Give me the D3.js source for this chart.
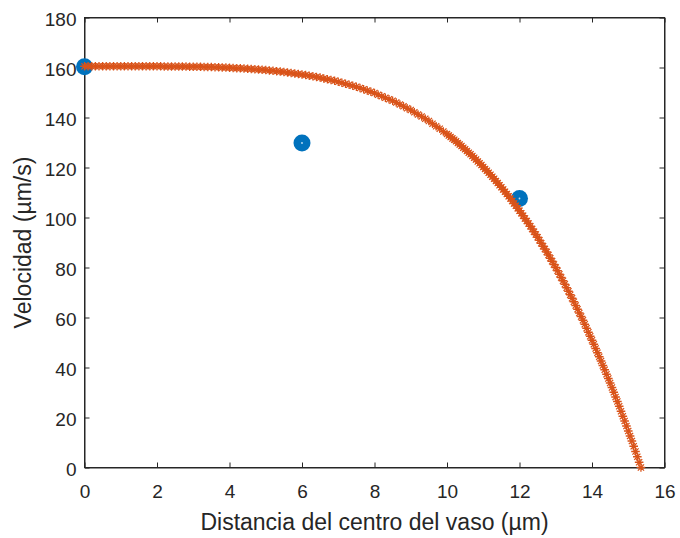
<!DOCTYPE html>
<html>
<head>
<meta charset="utf-8">
<script src="https://cdn.jsdelivr.net/npm/d3@7"></script>
<style>
  html, body { margin: 0; padding: 0; background: #ffffff; }
  svg { display: block; }
  text { font-family: "Liberation Sans", Arial, Helvetica, sans-serif; fill: #262626; }
</style>
</head>
<body>
<svg id="chart" width="680" height="538"></svg>
<script>
// ---- data ----
const xTicks = [0, 2, 4, 6, 8, 10, 12, 14, 16];
const yTicks = [0, 20, 40, 60, 80, 100, 120, 140, 160, 180];
const xLabel = "Distancia del centro del vaso (µm)";
const yLabel = "Velocidad (µm/s)";

// measured points (blue)
const measuredDist = [0, 6, 12];
const measuredVel = [160.3, 129.8, 107.6];

// fitted profile (orange asterisks)
const curveDist = [
  0,0.1,0.2,0.3,0.4,0.5,0.6,0.7,0.8,0.9,
  1,1.1,1.2,1.3,1.4,1.5,1.6,1.7,1.8,1.9,
  2,2.1,2.2,2.3,2.4,2.5,2.6,2.7,2.8,2.9,
  3,3.1,3.2,3.3,3.4,3.5,3.6,3.7,3.8,3.9,
  4,4.1,4.2,4.3,4.4,4.5,4.6,4.7,4.8,4.9,
  5,5.1,5.2,5.3,5.4,5.5,5.6,5.7,5.8,5.9,
  6,6.1,6.2,6.3,6.4,6.5,6.6,6.7,6.8,6.9,
  7,7.1,7.2,7.3,7.4,7.5,7.6,7.7,7.8,7.9,
  8,8.1,8.2,8.3,8.4,8.5,8.6,8.7,8.8,8.9,
  9,9.1,9.2,9.3,9.4,9.5,9.6,9.7,9.8,9.9,
  10,10.05,10.1,10.15,10.2,10.25,10.3,10.35,10.4,10.45,
  10.5,10.55,10.6,10.65,10.7,10.75,10.8,10.85,10.9,10.95,
  11,11.05,11.1,11.15,11.2,11.25,11.3,11.35,11.4,11.45,
  11.5,11.55,11.6,11.65,11.7,11.75,11.8,11.85,11.9,11.95,
  12,12.05,12.1,12.15,12.2,12.25,12.3,12.35,12.4,12.45,
  12.5,12.55,12.6,12.65,12.7,12.75,12.8,12.85,12.9,12.95,
  13,13.05,13.1,13.15,13.2,13.25,13.3,13.35,13.4,13.45,
  13.5,13.55,13.6,13.65,13.7,13.75,13.8,13.85,13.9,13.95,
  14,14.05,14.1,14.15,14.2,14.25,14.3,14.35,14.4,14.45,
  14.5,14.55,14.6,14.65,14.7,14.75,14.8,14.85,14.9,14.95,
  15,15.05,15.1,15.15,15.2,15.25,15.3,15.35
];
const curveVel = [
  160.5,160.5,160.5,160.5,160.5,160.5,160.5,160.5,160.5,160.5,
  160.5,160.5,160.5,160.5,160.5,160.5,160.5,160.5,160.5,160.5,
  160.5,160.5,160.4,160.4,160.4,160.4,160.4,160.4,160.4,160.3,
  160.3,160.3,160.3,160.2,160.2,160.2,160.1,160.1,160.0,160.0,
  159.9,159.8,159.7,159.7,159.6,159.5,159.4,159.3,159.2,159.1,
  159.0,158.8,158.7,158.5,158.4,158.2,158.0,157.8,157.6,157.4,
  157.2,157.0,156.7,156.5,156.2,156.0,155.6,155.3,155.0,154.7,
  154.3,153.9,153.5,153.1,152.7,152.3,151.8,151.3,150.8,150.3,
  149.8,149.1,148.5,147.9,147.3,146.7,146.0,145.2,144.5,143.7,
  143.0,142.1,141.2,140.4,139.5,138.6,137.5,136.5,135.5,134.4,
  133.4,132.8,132.2,131.6,131.1,130.5,129.8,129.2,128.6,127.9,
  127.3,126.6,125.9,125.3,124.6,123.9,123.2,122.4,121.7,121.0,
  120.2,119.4,118.7,117.9,117.1,116.3,115.5,114.6,113.8,112.9,
  112.1,111.2,110.3,109.4,108.5,107.6,106.6,105.6,104.7,103.7,
  102.7,101.7,100.7,99.6,98.6,97.6,96.5,95.4,94.3,93.2,
  92.1,90.9,89.7,88.5,87.4,86.2,85.0,83.7,82.5,81.2,
  80.0,78.7,77.3,76.0,74.7,73.3,71.9,70.5,69.1,67.7,
  66.3,64.8,63.3,61.8,60.4,58.9,57.3,55.7,54.1,52.5,
  50.9,49.3,47.6,45.9,44.3,42.6,40.8,39.1,37.3,35.6,
  33.8,32.0,30.1,28.2,26.4,24.5,22.5,20.5,18.6,16.6,
  14.6,12.6,10.6,8.5,6.4,4.3,2.1,0
];

// ---- drawing ----
const svg = d3.select("#chart");
const axisColor = "#262626";
const blue = "#0072BD";
const orange = "#D95319";

const x = d3.scaleLinear().domain([0, 16]).range([84.5, 664.5]);
const y = d3.scaleLinear().domain([0, 180]).range([467.5, 17.5]);

const clipId = "plotclip";
svg.append("defs").append("clipPath").attr("id", clipId)
  .append("rect")
  .attr("x", x(0) - 12).attr("y", y(180) - 12)
  .attr("width", x(16) - x(0) + 24).attr("height", y(0) - y(180) + 24);

function styleAxis(g) {
  g.selectAll("path.domain").attr("stroke", axisColor).attr("stroke-width", 1);
  g.selectAll(".tick line").attr("stroke", axisColor).attr("stroke-width", 1);
  g.selectAll(".tick text")
    .attr("fill", axisColor)
    .style("font-size", "19px")
    .style("font-family", '"Liberation Sans", Arial, Helvetica, sans-serif');
}

const gx = svg.append("g")
  .attr("transform", `translate(0,${y(0)})`)
  .call(d3.axisBottom(x).tickValues(xTicks).tickFormat(d3.format("d"))
        .tickSizeInner(-5).tickSizeOuter(0).tickPadding(17));
styleAxis(gx);

const gxTop = svg.append("g")
  .attr("transform", `translate(0,${y(180)})`)
  .call(d3.axisTop(x).tickValues(xTicks).tickFormat("")
        .tickSizeInner(-5).tickSizeOuter(0));
styleAxis(gxTop);

const gy = svg.append("g")
  .attr("transform", `translate(${x(0)},0)`)
  .call(d3.axisLeft(y).tickValues(yTicks).tickFormat(d3.format("d"))
        .tickSizeInner(-5).tickSizeOuter(0).tickPadding(8));
styleAxis(gy);
gy.selectAll(".tick text").attr("dy", "0.4em");

const gyRight = svg.append("g")
  .attr("transform", `translate(${x(16)},0)`)
  .call(d3.axisRight(y).tickValues(yTicks).tickFormat("")
        .tickSizeInner(-5).tickSizeOuter(0));
styleAxis(gyRight);

// axis titles
svg.append("text")
  .attr("x", (x(0) + x(16)) / 2)
  .attr("y", 530)
  .attr("text-anchor", "middle")
  .style("font-size", "23px")
  .text(xLabel);

svg.append("text")
  .attr("transform", `translate(31,${(y(0) + y(180)) / 2}) rotate(-90)`)
  .attr("text-anchor", "middle")
  .style("font-size", "23px")
  .text(yLabel);

// marks
const marks = svg.append("g").attr("clip-path", `url(#${clipId})`);

const measured = measuredDist.map((d, i) => ({ d, v: measuredVel[i] }));
marks.selectAll("circle.meas")
  .data(measured)
  .join("circle")
  .attr("class", "meas")
  .attr("cx", p => x(p.d))
  .attr("cy", p => y(p.v))
  .attr("r", 8.5)
  .attr("fill", blue);
marks.selectAll("circle.measc")
  .data(measured)
  .join("circle")
  .attr("class", "measc")
  .attr("cx", p => x(p.d))
  .attr("cy", p => y(p.v))
  .attr("r", 0.9)
  .attr("fill", "#bfe0f5");

const curve = curveDist.map((d, i) => ({ d, v: curveVel[i] }));
const s = 4.3, k = 3.1;
const starPath = `M${-s},0L${s},0M0,${-s}L0,${s}M${-k},${-k}L${k},${k}M${-k},${k}L${k},${-k}`;
marks.selectAll("path.star")
  .data(curve)
  .join("path")
  .attr("class", "star")
  .attr("transform", p => `translate(${x(p.d)},${y(p.v)})`)
  .attr("d", starPath)
  .attr("fill", "none")
  .attr("stroke", orange)
  .attr("stroke-width", 1.3);

// box border
svg.append("rect")
  .attr("x", x(0)).attr("y", y(180))
  .attr("width", x(16) - x(0)).attr("height", y(0) - y(180))
  .attr("fill", "none").attr("stroke", axisColor).attr("stroke-width", 1)
  .lower();
</script>
</body>
</html>
